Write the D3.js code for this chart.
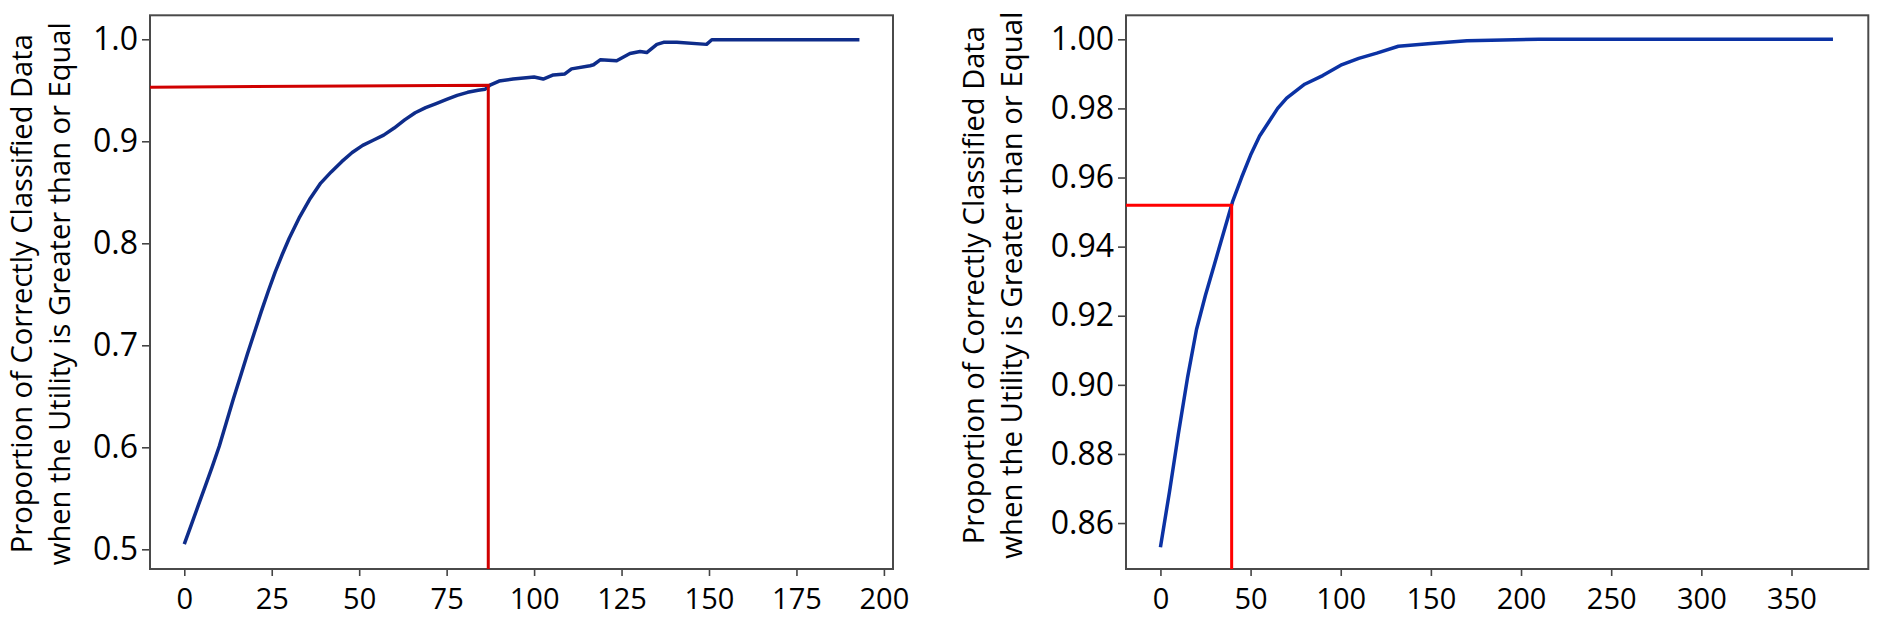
<!DOCTYPE html>
<html>
<head>
<meta charset="utf-8">
<script src="https://d3js.org/d3.v7.min.js"></script>
<style>
  body { margin: 0; background: #fff; }
  text { font-family: "Open Sans", sans-serif; fill: #000; }
</style>
</head>
<body>
<script>
// left panel: utility threshold vs proportion correct
var leftUtility = [0, 2, 4, 6, 8, 10, 12, 14, 16, 18, 20, 22, 24, 26, 28, 30, 33, 36, 39, 42, 45, 48, 51, 54, 57, 60, 63, 66, 69, 72, 75, 78, 81, 84, 86, 87.4, 90, 94, 100, 102.6, 105.5, 108.8, 110.7, 116, 117, 119, 123.6, 127.4, 130.3, 132.2, 135.1, 137, 140.8, 149.3, 150.8, 193];
var leftProportion = [0.505, 0.524, 0.543, 0.562, 0.581, 0.601, 0.624, 0.647, 0.669, 0.691, 0.712, 0.733, 0.753, 0.772, 0.789, 0.805, 0.826, 0.844, 0.859, 0.870, 0.880, 0.889, 0.896, 0.901, 0.906, 0.913, 0.921, 0.928, 0.933, 0.937, 0.941, 0.945, 0.948, 0.950, 0.951, 0.955, 0.959, 0.961, 0.963, 0.961, 0.965, 0.966, 0.971, 0.974, 0.975, 0.980, 0.979, 0.986, 0.988, 0.987, 0.995, 0.997, 0.997, 0.995, 0.9995, 0.9995];
var leftXTicks = [0, 25, 50, 75, 100, 125, 150, 175, 200];
var leftYTicks = [0.5, 0.6, 0.7, 0.8, 0.9, 1.0];
var leftCut = { x: 86.9, yStart: 0.953, yEnd: 0.955 };

// right panel
var rightUtility = [0, 5, 10, 15, 20, 25, 30, 35, 40, 45, 50, 55, 60, 65, 70, 75, 80, 90, 100, 110, 120, 132, 150, 170, 190, 210, 373];
var rightProportion = [0.853, 0.869, 0.886, 0.902, 0.916, 0.926, 0.935, 0.944, 0.953, 0.960, 0.9665, 0.972, 0.976, 0.980, 0.983, 0.985, 0.987, 0.9895, 0.9925, 0.9945, 0.996, 0.998, 0.9988, 0.9996, 0.9998, 1.0, 1.0];
var rightXTicks = [0, 50, 100, 150, 200, 250, 300, 350];
var rightYTicks = [0.86, 0.88, 0.90, 0.92, 0.94, 0.96, 0.98, 1.00];
var rightCut = { x: 39.5, yStart: 0.952, yEnd: 0.952 };

var yLabel = ["Proportion of Correctly Classified Data", "when the Utility is Greater than or Equal"];

var svg = d3.select("body").append("svg").attr("width", 1880).attr("height", 619);

function drawPanel(opt) {
    var x = d3.scaleLinear().domain(opt.xDomain).range([opt.left, opt.right]);
    var y = d3.scaleLinear().domain(opt.yDomain).range([opt.bottom, opt.top]);
    var g = svg.append("g");

    var xAxis = g.append("g").attr("transform", "translate(0," + opt.bottom + ")")
        .call(d3.axisBottom(x).tickValues(opt.xTicks).tickSize(7).tickPadding(12).tickFormat(d3.format("d")));
    var yAxis = g.append("g").attr("transform", "translate(" + opt.left + ",0)")
        .call(d3.axisLeft(y).tickValues(opt.yTicks).tickSize(8).tickPadding(4).tickFormat(d3.format(opt.yFormat)));
    xAxis.select(".domain").remove();
    yAxis.select(".domain").remove();
    xAxis.selectAll("text").style("font-size", "29px");
    yAxis.selectAll("text").style("font-size", "32px");
    g.selectAll(".tick line").attr("stroke", "#444").attr("stroke-width", 1.6);

    g.append("rect").attr("x", opt.left).attr("y", opt.top)
        .attr("width", opt.right - opt.left).attr("height", opt.bottom - opt.top)
        .attr("fill", "none").attr("stroke", "#4a4a4a").attr("stroke-width", 2);

    var pts = opt.xs.map(function (d, i) { return [d, opt.ys[i]]; });
    var line = d3.line().x(function (d) { return x(d[0]); }).y(function (d) { return y(d[1]); });
    g.append("path").datum(pts).attr("d", line)
        .attr("fill", "none").attr("stroke", opt.lineColor).attr("stroke-width", 3.5)
        .attr("stroke-linejoin", "round");

    // cut-off marker
    var c = opt.cut;
    g.append("path")
        .datum([[opt.xDomain[0], c.yStart], [c.x, c.yEnd], [c.x, opt.yDomain[0]]])
        .attr("d", line).attr("fill", "none")
        .attr("stroke", opt.cutColor).attr("stroke-width", 3);

    var mid = (opt.top + opt.bottom) / 2 + opt.labelShift;
    yLabel.forEach(function (t, i) {
        g.append("text")
            .attr("transform", "translate(" + (opt.labelX + i * 38) + "," + mid + ") rotate(-90)")
            .attr("text-anchor", "middle")
            .attr("textLength", opt.labelLen[i]).attr("lengthAdjust", "spacingAndGlyphs")
            .style("font-size", "29px")
            .text(t);
    });
}

drawPanel({
    left: 150, right: 893, top: 15.3, bottom: 569,
    xDomain: [-9.8, 202.6], yDomain: [0.4807, 1.0235],
    xTicks: leftXTicks, yTicks: leftYTicks, yFormat: ".1f",
    xs: leftUtility, ys: leftProportion, cut: leftCut,
    lineColor: "#0e2c8a", cutColor: "#d00000",
    labelX: 32, labelShift: 1.5, labelLen: [519, 543]
});

drawPanel({
    left: 1126, right: 1868.3, top: 15.3, bottom: 569,
    xDomain: [-19.1, 392.6], yDomain: [0.8467, 1.00695],
    xTicks: rightXTicks, yTicks: rightYTicks, yFormat: ".2f",
    xs: rightUtility, ys: rightProportion, cut: rightCut,
    lineColor: "#0b32a4", cutColor: "#ff0000",
    labelX: 984, labelShift: -7, labelLen: [518, 547]
});
</script>
</body>
</html>
